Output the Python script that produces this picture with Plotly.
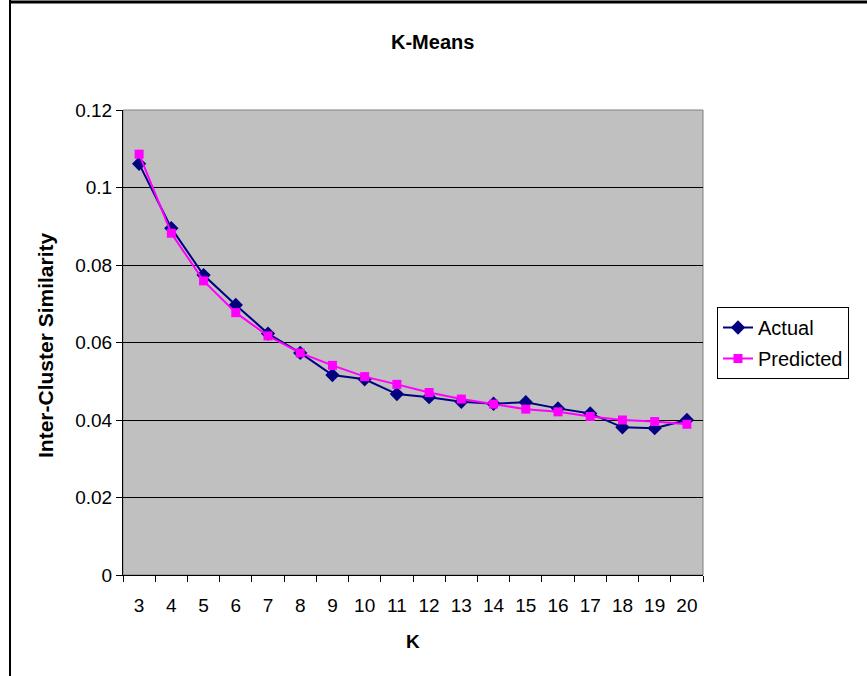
import plotly.graph_objects as go

k_values = ["3", "4", "5", "6", "7", "8", "9", "10", "11", "12", "13", "14", "15", "16", "17", "18", "19", "20"]
actual = [0.1061, 0.0895, 0.0774, 0.0697, 0.0623, 0.0573, 0.0516, 0.0505, 0.0467, 0.0459, 0.0447, 0.0442,
          0.0446, 0.0430, 0.0417, 0.0381, 0.0379, 0.0400]
predicted = [0.1086, 0.0882, 0.0759, 0.0677, 0.0617, 0.0573, 0.0541, 0.0512, 0.0492, 0.0471, 0.0454, 0.0441,
             0.0428, 0.0421, 0.0409, 0.0400, 0.0396, 0.0389]
y_ticks = [0, 0.02, 0.04, 0.06, 0.08, 0.1, 0.12]
y_tick_text = ["0", "0.02", "0.04", "0.06", "0.08", "0.1", "0.12"]

FONT = "Arial, 'Liberation Sans', sans-serif"
W, H = 867, 676
ML, MR, MT, MB = 123, 164, 110, 101
PW, PH = W - ML - MR, H - MT - MB


def px_x(p):
    return (p - ML) / PW


def px_y(p):
    return (H - MB - p) / PH


fig = go.Figure()
fig.add_trace(go.Scatter(
    x=k_values, y=actual, name="Actual", mode="lines+markers", legendgroup="a",
    line=dict(color="#000080", width=2),
    marker=dict(symbol="diamond", size=11, color="#000080"),
))
fig.add_trace(go.Scatter(
    x=k_values, y=predicted, name="Predicted", mode="lines+markers", legendgroup="p",
    line=dict(color="#FF00FF", width=2),
    marker=dict(symbol="square", size=9, color="#FF00FF"),
))

fig.update_layout(
    width=W, height=H,
    margin=dict(l=ML, r=MR, t=MT, b=MB),
    paper_bgcolor="white",
    plot_bgcolor="#C0C0C0",
    font=dict(family=FONT, size=19, color="black"),
    showlegend=True,
    legend=dict(
        x=px_x(717), y=px_y(307), xanchor="left", yanchor="top",
        bordercolor="black", borderwidth=1, bgcolor="white",
        font=dict(family=FONT, size=20, color="black"),
        tracegroupgap=2,
    ),
    xaxis=dict(
        type="category", range=[-0.5, 17.5], showgrid=False, tickson="boundaries",
        ticks="outside", ticklen=6, tickcolor="black", tickwidth=1,
        showline=True, linecolor="black", linewidth=1,
        ticklabelstandoff=13,
        tickfont=dict(family=FONT, size=19, color="black"),
        zeroline=False,
    ),
    yaxis=dict(
        range=[0, 0.12], tickvals=y_ticks, ticktext=y_tick_text,
        showgrid=True, gridcolor="#000000", gridwidth=1,
        ticks="outside", ticklen=6, tickcolor="black", tickwidth=1,
        showline=True, linecolor="black", linewidth=1,
        tickfont=dict(family=FONT, size=19, color="black"),
        zeroline=False,
    ),
    shapes=[
        dict(type="rect", xref="paper", yref="paper", x0=0, x1=1, y0=0, y1=1,
             line=dict(color="#808080", width=1), layer="below"),
        dict(type="line", xref="paper", yref="paper", x0=px_x(9), x1=px_x(870), y0=px_y(2), y1=px_y(2),
             line=dict(color="black", width=3)),
        dict(type="line", xref="paper", yref="paper", x0=px_x(10), x1=px_x(10), y0=px_y(0), y1=px_y(680),
             line=dict(color="black", width=2)),
    ],
    annotations=[
        dict(text="<b>K-Means</b>", xref="paper", yref="paper", x=px_x(432), y=px_y(42),
             showarrow=False, font=dict(family=FONT, size=20, color="black"),
             xanchor="center", yanchor="middle"),
        dict(text="<b>K</b>", xref="paper", yref="paper", x=px_x(413), y=px_y(641),
             showarrow=False, font=dict(family=FONT, size=19, color="black"),
             xanchor="center", yanchor="middle"),
        dict(text="<b>Inter-Cluster Similarity</b>", xref="paper", yref="paper", x=px_x(45), y=px_y(345),
             showarrow=False, textangle=-90, font=dict(family=FONT, size=21, color="black"),
             xanchor="center", yanchor="middle"),
    ],
)

fig.write_html("out.html")
